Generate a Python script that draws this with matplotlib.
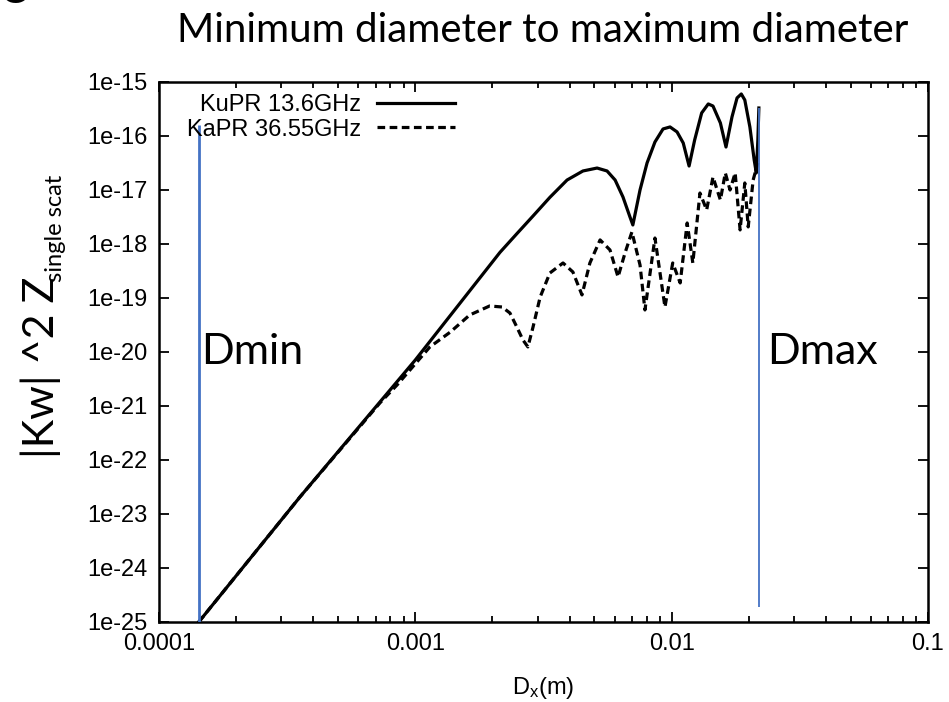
import numpy as np
import matplotlib
matplotlib.use("Agg")
import matplotlib.pyplot as plt

plt.rcParams['font.family'] = ['Liberation Sans', 'DejaVu Sans']
plt.rcParams['mathtext.fontset'] = 'custom'
plt.rcParams['mathtext.rm'] = 'Liberation Sans'
plt.rcParams['mathtext.it'] = 'Liberation Sans'

# KuPR 13.6 GHz (solid)
ku_d = [1.43e-4, 3.55e-4, 1.0e-3, 2.14e-3, 2.49e-3, 2.88e-3, 3.35e-3, 3.91e-3,
        4.51e-3, 5.12e-3, 5.60e-3, 6.02e-3, 6.46e-3, 6.88e-3, 7.06e-3, 7.53e-3,
        8.02e-3, 8.61e-3, 9.26e-3, 9.86e-3, 1.05e-2, 1.11e-2, 1.17e-2, 1.23e-2,
        1.31e-2, 1.39e-2, 1.45e-2, 1.55e-2, 1.63e-2, 1.72e-2, 1.80e-2, 1.87e-2,
        1.93e-2, 2.02e-2, 2.10e-2, 2.14e-2, 2.17e-2, 2.19e-2]
ku_z = [1.0e-25, 2.07e-23, 7.1e-21, 7.0e-19, 1.55e-18, 3.3e-18, 7.3e-18, 1.53e-17,
        2.25e-17, 2.55e-17, 2.25e-17, 1.53e-17, 7.42e-18, 3.16e-18, 2.25e-18, 1.0e-17,
        3.16e-17, 7.74e-17, 1.35e-16, 1.47e-16, 1.19e-16, 7.42e-17, 2.78e-17, 8.43e-17,
        2.67e-16, 3.92e-16, 3.59e-16, 1.74e-16, 6.25e-17, 2.25e-16, 5.06e-16, 6.0e-16,
        4.64e-16, 1.47e-16, 3.59e-17, 2.07e-17, 8.43e-17, 3.3e-16]

# KaPR 36.55 GHz (dashed)
ka_d = [1.43e-4, 3.55e-4, 7.28e-4, 8.49e-4, 1.14e-3, 1.37e-3, 1.63e-3, 1.95e-3,
        2.18e-3, 2.34e-3, 2.49e-3, 2.63e-3, 2.75e-3, 2.88e-3, 3.07e-3, 3.35e-3,
        3.77e-3, 4.12e-3, 4.47e-3, 4.80e-3, 5.26e-3, 5.75e-3, 6.18e-3, 6.58e-3,
        7.0e-3, 7.53e-3, 7.87e-3, 8.61e-3, 9.42e-3, 1.01e-2, 1.08e-2, 1.15e-2,
        1.21e-2, 1.29e-2, 1.37e-2, 1.45e-2, 1.55e-2, 1.62e-2, 1.69e-2, 1.77e-2,
        1.85e-2, 1.93e-2, 1.99e-2, 2.08e-2, 2.17e-2]
ka_z = [1.0e-25, 2.07e-23, 1.14e-21, 2.45e-21, 1.24e-20, 2.34e-20, 4.84e-20, 7.11e-20,
        6.81e-20, 5.27e-20, 2.9e-20, 1.67e-20, 1.24e-20, 2.9e-20, 1.04e-19, 2.9e-19,
        4.45e-19, 3.03e-19, 1.14e-19, 4.45e-19, 1.19e-18, 7.74e-19, 2.45e-19, 6.81e-19,
        1.67e-18, 4.08e-19, 6.0e-20, 1.29e-18, 6.81e-20, 4.45e-19, 1.9e-19, 2.45e-18,
        4.45e-19, 8.79e-18, 4.27e-18, 1.74e-17, 6.53e-18, 2.07e-17, 1.0e-17, 2.07e-17,
        1.82e-18, 1.35e-17, 2.07e-18, 1.53e-17, 3.16e-17]

# Dmin / Dmax markers
dlim_x = [1.43e-4, 2.19e-2]
dlim_lo = [1.0e-25, 1.9e-25]
dlim_hi = [1.6e-16, 3.3e-16]
dlim_text = ["Dmin", "Dmax"]

xticks = [1e-4, 1e-3, 1e-2, 1e-1]
xticklabels = ["0.0001", "0.001", "0.01", "0.1"]
yticks = [10.0 ** e for e in range(-25, -14)]
yticklabels = ["1e%d" % e for e in range(-25, -14)]

fig = plt.figure(figsize=(9.49, 7.02), dpi=100)
ax = fig.add_axes([0.1675, 0.114, 0.8103, 0.7692])

ax.plot(ku_d, ku_z, color='black', lw=2.3, solid_joinstyle='round', label='KuPR 13.6GHz')
ax.plot(ka_d, ka_z, color='black', lw=2.3, linestyle=(0, (2.4, 1.4)), label='KaPR 36.55GHz')

ax.vlines(dlim_x[0], dlim_lo[0], dlim_hi[0], color='#4472C4', lw=2.0, zorder=3)
ax.vlines(dlim_x[1], dlim_lo[1], dlim_hi[1], color='#4472C4', lw=1.3, zorder=3)

ax.set_xscale('log')
ax.set_yscale('log')
ax.set_xlim(1e-4, 1e-1)
ax.set_ylim(1e-25, 1e-15)
ax.set_xticks(xticks, xticklabels)
ax.set_yticks(yticks, yticklabels)
ax.yaxis.set_minor_locator(matplotlib.ticker.NullLocator())

ax.tick_params(which='both', direction='in', top=True, right=True, labelsize=17, width=1.3)
ax.tick_params(which='major', length=7, pad=8)
ax.tick_params(which='minor', length=4)
for s in ax.spines.values():
    s.set_linewidth(1.8)

ax.set_xlabel("D$_\\mathrm{x}$(m)", fontsize=17, labelpad=14)

leg = ax.legend(loc='upper left', bbox_to_anchor=(0.036, 0.978), frameon=False,
                markerfirst=False, fontsize=17, handlelength=3.3, handletextpad=0.7,
                labelspacing=0.12, borderpad=0, borderaxespad=0)

ax.text(1.46e-4, 1e-20, dlim_text[0], fontsize=31, family='Lato', va='center', ha='left')
ax.text(2.35e-2, 1e-20, dlim_text[1], fontsize=31, family='Lato', va='center', ha='left')

fig.text(0.572, 0.957, "Minimum diameter to maximum diameter", fontsize=29, family='Lato',
         ha='center', va='center')
fig.text(0.043, 0.477, "|Kw| ^2 Z", fontsize=31, family='Lato', rotation=90, ha='center', va='center')
fig.text(0.058, 0.675, "single scat", fontsize=17, family='Lato', rotation=90, ha='center', va='center')
fig.text(0.0, 0.982, "3", fontsize=40, family='Lato', ha='left', va='bottom')

fig.savefig("out.png", dpi=100, facecolor='white')
